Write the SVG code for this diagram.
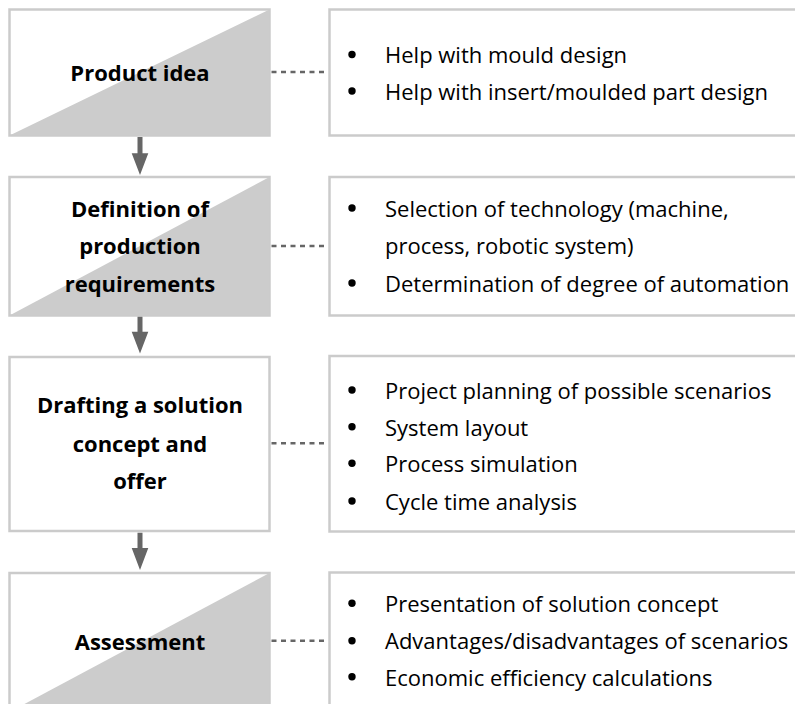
<svg xmlns="http://www.w3.org/2000/svg" width="795" height="704" viewBox="0 0 795 704">
<style>
.box{fill:#ffffff;stroke:#cbcbcb;stroke-width:2.5}
.tri{fill:#cccccc}
.lbl{font-family:"Open Sans","Noto Sans",sans-serif;font-weight:bold;font-size:22px;fill:#000;text-anchor:middle}
.itm{font-family:"Open Sans","Noto Sans",sans-serif;font-size:22px;fill:#000}
.dash{stroke:#666666;stroke-width:2.5;stroke-dasharray:5 4.5;fill:none}
.arr{fill:#666666}
.bul{fill:#000}
</style>
<rect width="795" height="704" fill="#ffffff"/>
<g id="step1">
<rect class="box" x="9.5" y="9.5" width="260" height="126"/>
<polygon class="tri" points="9.5,135.5 269.5,9.5 269.5,135.5"/>
<text class="lbl" x="140" y="81">Product idea</text>
</g>
<g id="info1">
<rect class="box" x="329.5" y="9.5" width="480" height="126"/>
<circle class="bul" cx="352" cy="54.5" r="3.7"/>
<circle class="bul" cx="352" cy="91" r="3.7"/>
<text class="itm" x="385" y="63">Help with mould design</text>
<text class="itm" x="385" y="100">Help with insert/moulded part design</text>
</g>
<g id="step2">
<rect class="box" x="9.5" y="177" width="260" height="138.5"/>
<polygon class="tri" points="9.5,315.5 269.5,177 269.5,315.5"/>
<text class="lbl" x="140" y="217">Definition of</text>
<text class="lbl" x="140" y="254">production</text>
<text class="lbl" x="140" y="291.5">requirements</text>
</g>
<g id="info2">
<rect class="box" x="329.5" y="177" width="480" height="138.5"/>
<circle class="bul" cx="352" cy="208" r="3.7"/>
<circle class="bul" cx="352" cy="283" r="3.7"/>
<text class="itm" x="385" y="217">Selection of technology (machine,</text>
<text class="itm" x="385" y="254">process, robotic system)</text>
<text class="itm" x="385" y="291.5">Determination of degree of automation</text>
</g>
<g id="step3">
<rect class="box" x="9.5" y="357" width="260" height="174"/>
<text class="lbl" x="140" y="413">Drafting a solution</text>
<text class="lbl" x="140" y="451.5">concept and</text>
<text class="lbl" x="140" y="489">offer</text>
</g>
<g id="info3">
<rect class="box" x="329.5" y="356" width="480" height="175.5"/>
<circle class="bul" cx="352" cy="390" r="3.7"/>
<circle class="bul" cx="352" cy="426.7" r="3.7"/>
<circle class="bul" cx="352" cy="463.3" r="3.7"/>
<circle class="bul" cx="352" cy="501" r="3.7"/>
<text class="itm" x="385" y="398.5">Project planning of possible scenarios</text>
<text class="itm" x="385" y="435.5">System layout</text>
<text class="itm" x="385" y="471.7">Process simulation</text>
<text class="itm" x="385" y="509.5">Cycle time analysis</text>
</g>
<g id="step4">
<rect class="box" x="9.5" y="573" width="260" height="139"/>
<polygon class="tri" points="9.5,712 269.5,573 269.5,712"/>
<text class="lbl" x="140" y="650">Assessment</text>
</g>
<g id="info4">
<rect class="box" x="329.5" y="572.5" width="480" height="140"/>
<circle class="bul" cx="352" cy="603.3" r="3.7"/>
<circle class="bul" cx="352" cy="640.7" r="3.7"/>
<circle class="bul" cx="352" cy="676.7" r="3.7"/>
<text class="itm" x="385" y="611.7">Presentation of solution concept</text>
<text class="itm" x="385" y="649.3">Advantages/disadvantages of scenarios</text>
<text class="itm" x="385" y="685.7">Economic efficiency calculations</text>
</g>
<g id="connectors">
<path class="dash" d="M271.5,72 H328"/>
<path class="dash" d="M271.5,246 H328"/>
<path class="dash" d="M271.5,443.3 H328"/>
<path class="dash" d="M271.5,640.7 H328"/>
<path class="arr" d="M137.5,137 H142.5 V153.3 H148.3 L140,175 L131.7,153.3 H137.5 Z"/>
<path class="arr" d="M137.5,316.7 H142.5 V331.7 H148.3 L140,353.5 L131.7,331.7 H137.5 Z"/>
<path class="arr" d="M137.5,532.7 H142.5 V548 H148.3 L140,570 L131.7,548 H137.5 Z"/>
</g>
</svg>
